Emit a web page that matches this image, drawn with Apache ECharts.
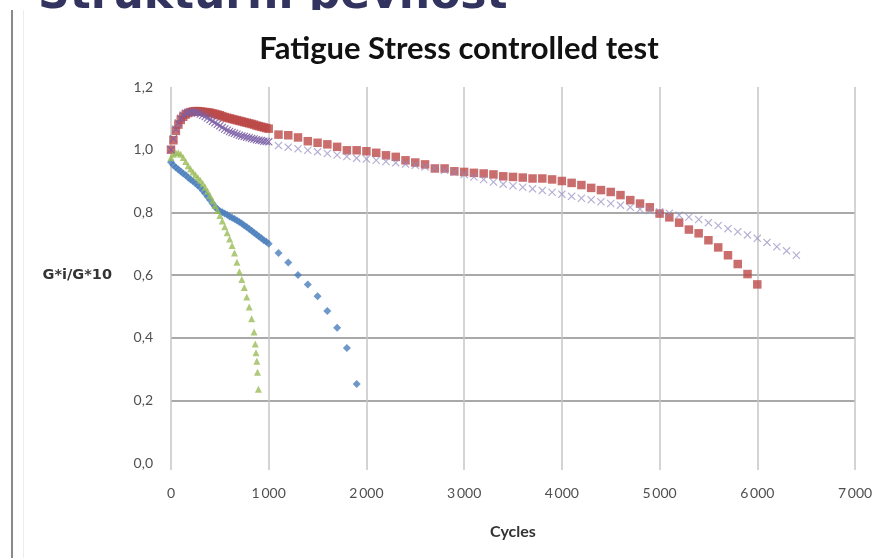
<!DOCTYPE html>
<html>
<head>
<meta charset="utf-8">
<script src="https://cdn.jsdelivr.net/npm/echarts@6/dist/echarts.min.js"></script>
<style>
  html, body { margin: 0; padding: 0; background: #ffffff; }
  #chart { width: 877px; height: 558px; }
</style>
</head>
<body>
<div id="chart"></div>
<script>
// ---------- DATA ----------
const headerText = 'Strukturní pevnost';
const titleText = 'Fatigue Stress controlled test';
const xAxisName = 'Cycles';
const yAxisName = 'G*i/G*10';
const xTicks = [0, 1000, 2000, 3000, 4000, 5000, 6000, 7000];
const yTicks = [0.0, 0.2, 0.4, 0.6, 0.8, 1.0, 1.2];

// Series 1 - blue diamonds
const blueCycles = [0,25,50,75,100,125,150,175,200,225,250,275,300,325,350,375,400,425,450,475,500,
  525,550,575,600,625,650,675,700,725,750,775,800,825,850,875,900,925,950,975,1000,
  1100,1200,1300,1400,1500,1600,1700,1800,1900];
const blueValues = [0.960,0.950,0.943,0.937,0.930,0.924,0.918,0.911,0.905,0.899,0.893,0.886,0.879,0.870,0.860,0.850,0.839,0.828,0.818,0.810,0.804,
  0.800,0.796,0.792,0.787,0.783,0.779,0.774,0.769,0.764,0.758,0.753,0.747,0.741,0.735,0.729,0.723,0.717,0.711,0.706,0.700,
  0.670,0.640,0.600,0.570,0.532,0.485,0.432,0.367,0.252];

// Series 2 - red squares
const redCycles = [0,25,50,75,100,125,150,175,200,225,250,275,300,325,350,375,400,425,450,475,500,
  525,550,575,600,625,650,675,700,725,750,775,800,825,850,875,900,925,950,975,1000,
  1100,1200,1300,1400,1500,1600,1700,1800,1900,2000,2100,2200,2300,2400,2500,2600,2700,2800,2900,3000,
  3100,3200,3300,3400,3500,3600,3700,3800,3900,4000,4100,4200,4300,4400,4500,4600,4700,4800,4900,5000,
  5100,5200,5300,5400,5500,5600,5700,5800,5900,6000];
const redValues = [1.000,1.030,1.060,1.080,1.095,1.105,1.112,1.117,1.120,1.122,1.123,1.123,1.122,1.121,1.120,1.119,1.118,1.116,1.114,1.112,1.110,
  1.107,1.104,1.102,1.100,1.098,1.096,1.094,1.092,1.090,1.088,1.086,1.084,1.082,1.080,1.077,1.075,1.073,1.071,1.069,1.067,
  1.048,1.046,1.039,1.027,1.022,1.017,1.009,0.998,0.998,0.995,0.990,0.982,0.977,0.966,0.959,0.953,0.940,0.940,0.931,0.929,
  0.926,0.924,0.921,0.915,0.913,0.911,0.908,0.908,0.905,0.900,0.894,0.887,0.878,0.871,0.865,0.855,0.839,0.828,0.816,0.796,
  0.784,0.767,0.745,0.733,0.711,0.688,0.663,0.635,0.603,0.570];

// Series 3 - green triangles
const greenCycles = [0,25,50,75,100,125,150,175,200,225,250,275,300,325,350,375,400,425,450,475,500,
  525,550,575,600,625,650,675,700,725,750,775,800,825,850,862,870,878,885,895];
const greenValues = [0.975,0.985,0.990,0.990,0.985,0.975,0.962,0.949,0.938,0.929,0.920,0.911,0.902,0.892,0.880,0.867,0.853,0.838,0.822,0.806,0.790,
  0.772,0.754,0.735,0.715,0.694,0.670,0.641,0.610,0.586,0.560,0.530,0.498,0.460,0.418,0.380,0.352,0.325,0.290,0.235];

// Series 4 - purple crosses
const purpleCycles = [0,25,50,75,100,125,150,175,200,225,250,275,300,325,350,375,400,425,450,475,500,
  525,550,575,600,625,650,675,700,725,750,775,800,825,850,875,900,925,950,975,1000,
  1100,1200,1300,1400,1500,1600,1700,1800,1900,2000,2100,2200,2300,2400,2500,2600,2700,2800,2900,3000,
  3100,3200,3300,3400,3500,3600,3700,3800,3900,4000,4100,4200,4300,4400,4500,4600,4700,4800,4900,5000,
  5100,5200,5300,5400,5500,5600,5700,5800,5900,6000,6100,6200,6300,6400];
const purpleValues = [1.000,1.035,1.065,1.085,1.100,1.110,1.116,1.119,1.120,1.120,1.119,1.117,1.114,1.110,1.106,1.101,1.096,1.091,1.086,1.081,1.076,
  1.071,1.066,1.062,1.058,1.055,1.052,1.049,1.046,1.044,1.042,1.040,1.038,1.036,1.034,1.032,1.030,1.029,1.027,1.026,1.025,
  1.013,1.008,1.003,0.998,0.993,0.988,0.983,0.978,0.973,0.970,0.966,0.962,0.958,0.954,0.950,0.945,0.940,0.934,0.928,0.921,
  0.913,0.905,0.897,0.890,0.885,0.880,0.875,0.870,0.864,0.858,0.851,0.845,0.840,0.834,0.828,0.823,0.816,0.810,0.806,0.802,
  0.797,0.791,0.785,0.777,0.767,0.758,0.748,0.738,0.728,0.717,0.704,0.690,0.677,0.663];

// ---------- CHART ----------
const crossPath = 'path://M0,1 L1,0 L5,4 L9,0 L10,1 L6,5 L10,9 L9,10 L5,6 L1,10 L0,9 L4,5 Z';
// dense early readings look darker because markers overlap
const pair = (xs, ys, denseStyle) => xs.map((x, i) =>
  (denseStyle && x <= 1000) ? { value: [x, ys[i]], itemStyle: denseStyle } : [x, ys[i]]);

const chart = echarts.init(document.getElementById('chart'), null, { renderer: 'canvas' });
const gridColor = '#c6c6c6';
const hColor = '#8c8c8c';

chart.setOption({
  animation: false,
  backgroundColor: '#ffffff',
  title: {
    text: titleText,
    left: 454,
    textAlign: 'center',
    top: 28,
    textStyle: { fontFamily: 'Lato', fontWeight: 'bold', fontSize: 31, color: '#111111' }
  },
  graphic: [
    { type: 'rect', shape: { x: 11, y: 10, width: 2, height: 548 }, style: { fill: '#8a8a8a' }, silent: true },
    { type: 'rect', shape: { x: 23, y: 10, width: 1, height: 548 }, style: { fill: '#ededed' }, silent: true },
    { type: 'group', z: 1, silent: true, children: [
      { type: 'text', x: 38, y: -25, z: 1, z2: 1,
        style: { text: headerText, fontFamily: 'DejaVu Sans', fontWeight: 'bold', fontSize: 44,
                 fill: '#33335f', verticalAlign: 'top' } },
      { type: 'rect', z: 1, z2: 50, shape: { x: 30, y: 10, width: 540, height: 17 }, style: { fill: '#ffffff' } }
    ] }
  ],
  grid: { left: 171, right: 22, top: 87, bottom: 95, containLabel: false },
  xAxis: {
    type: 'value', min: xTicks[0], max: xTicks[xTicks.length - 1], interval: 1000,
    axisLine: { show: false },
    axisTick: { show: true, length: 7, lineStyle: { color: gridColor, width: 1.5 } },
    splitLine: { show: true, lineStyle: { color: gridColor, width: 1.5 } },
    axisLabel: {
      margin: 23, fontFamily: 'Lato', fontSize: 14, color: '#505050',
      formatter: v => v >= 1000 ? Math.floor(v / 1000) + '\u2009' + String(v % 1000).padStart(3, '0') : String(v)
    },
    name: xAxisName, nameLocation: 'middle', nameGap: 61,
    nameTextStyle: { fontFamily: 'Lato', fontWeight: 'bold', fontSize: 16, color: '#333333' }
  },
  yAxis: {
    type: 'value', min: yTicks[0], max: yTicks[yTicks.length - 1], interval: 0.2,
    axisLine: { show: false },
    axisTick: { show: false },
    splitLine: { show: true, lineStyle: { color: ['transparent', hColor, hColor, hColor, hColor, 'transparent', 'transparent'], width: 1.5 } },
    axisLabel: {
      margin: 18, fontFamily: 'Lato', fontSize: 14, color: '#505050',
      formatter: v => v.toFixed(1).replace('.', ',')
    },
    name: yAxisName, nameLocation: 'middle', nameRotate: 0, nameGap: 59,
    nameTextStyle: { fontFamily: 'DejaVu Sans', fontWeight: 'bold', fontSize: 14.5, color: '#333333', align: 'right', verticalAlign: 'middle' }
  },
  series: [
    { type: 'scatter', name: 'S1', data: pair(blueCycles, blueValues), symbol: 'diamond', symbolSize: 8,
      itemStyle: { color: '#4a7ebb' } },
    { type: 'scatter', name: 'S2', data: pair(redCycles, redValues), symbol: 'rect', symbolSize: 8.5,
      itemStyle: { color: '#bc4a48' } },
    { type: 'scatter', name: 'S3', data: pair(greenCycles, greenValues), symbol: 'triangle', symbolSize: 7,
      itemStyle: { color: '#9bbb59' } },
    { type: 'scatter', name: 'S4', data: pair(purpleCycles, purpleValues, { color: '#7d62a6', opacity: 0.9 }),
      symbol: crossPath, symbolSize: 8,
      itemStyle: { color: '#948ac0', opacity: 0.7 } }
  ]
});
</script>
</body>
</html>
